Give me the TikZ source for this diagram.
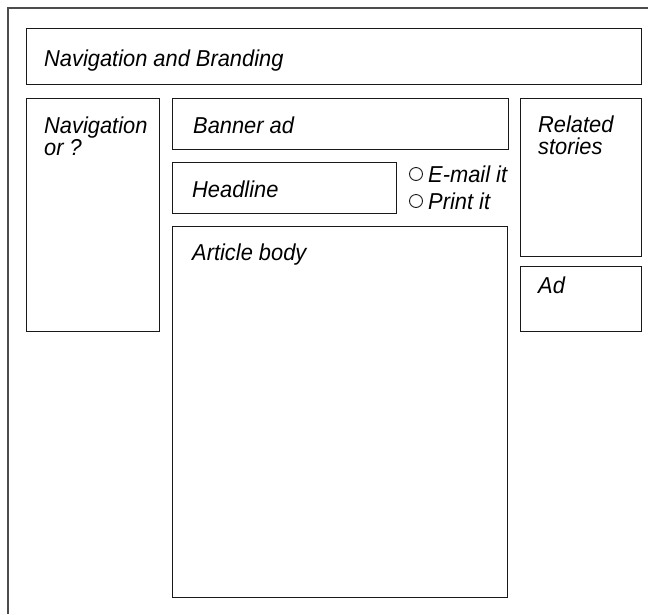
\documentclass[tikz,border=0pt]{standalone}
\usepackage{fontspec}
\setmainfont{Liberation Sans}[FakeStretch=0.95]
\begin{document}
\begin{tikzpicture}[x=1pt,y=-1pt,
  frame/.style={draw=black!70,line width=1.5pt},
  box/.style={draw=black!90,line width=1.3pt,anchor=north west,inner sep=0pt,rectangle},
  lbl/.style={anchor=base west,inner sep=0pt,font=\fontsize{23}{21}\selectfont\itshape},
  radio/.style={draw=black!90,line width=0.9pt,circle,minimum size=13pt,inner sep=0pt}]
\useasboundingbox (0,0) rectangle (648,614);
\coordinate (ftr) at (648,8);
\coordinate (ftl) at (8,8);
\coordinate (fbl) at (8,614);
\draw[frame] (ftr) -- (ftl) -- (fbl);
% boxes
\node[box,minimum width=615pt,minimum height=56pt] (nav) at (26,28) {};
\node[box,minimum width=133pt,minimum height=233pt] (leftnav) at (26,98) {};
\node[box,minimum width=336pt,minimum height=51pt] (banner) at (172,98) {};
\node[box,minimum width=224pt,minimum height=51pt] (headline) at (172,162) {};
\node[box,minimum width=335pt,minimum height=371pt] (article) at (172,226) {};
\node[box,minimum width=121pt,minimum height=158pt] (related) at (520,98) {};
\node[box,minimum width=121pt,minimum height=65pt] (ad) at (520,266) {};
% labels
\node[lbl] (navT) at (44,66) {Navigation and Branding};
\node[lbl] (leftT1) at (44,133) {Navigation};
\node[lbl] (leftT2) at (44,155) {or ?};
\node[lbl] (bannerT) at (193,133) {Banner ad};
\node[lbl] (headT) at (192,197) {Headline};
\node[lbl] (artT) at (192,260) {Article body};
\node[lbl] (relT1) at (538,132) {Related};
\node[lbl] (relT2) at (538,154) {stories};
\node[lbl] (adT) at (538,293) {Ad};
% radio options
\node[radio] (r1) at (416,174) {};
\node[radio] (r2) at (416,201) {};
\node[lbl] (emailT) at (428,182) {E-mail it};
\node[lbl] (printT) at (428,209) {Print it};
\end{tikzpicture}
\end{document}
